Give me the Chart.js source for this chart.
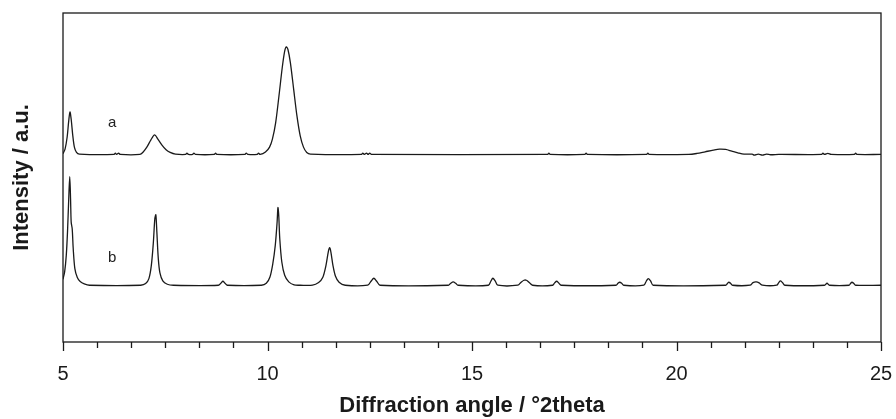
<!DOCTYPE html>
<html>
<head>
<meta charset="utf-8">
<script src="https://cdn.jsdelivr.net/npm/chart.js@4/dist/chart.umd.min.js"></script>
<style>
html,body{margin:0;padding:0;background:#fff;}
#wrap{width:896px;height:419px;position:relative;}
</style>
</head>
<body>
<div id="wrap"><canvas id="c" width="896" height="419"></canvas></div>
<script>
// ---- data ----
const aAngles = [5.00,5.05,5.10,5.14,5.17,5.20,5.24,5.28,5.33,5.40,6.25,6.28,6.31,6.36,6.40,6.88,6.95,7.05,7.15,7.24,7.32,7.42,7.52,7.62,7.75,8.00,8.03,8.07,8.17,8.20,8.24,8.70,8.73,8.76,9.45,9.48,9.52,9.75,9.78,9.82,9.95,10.05,10.12,10.20,10.28,10.36,10.42,10.46,10.50,10.56,10.64,10.72,10.80,10.88,10.96,11.05,12.30,12.33,12.37,12.42,12.46,12.50,12.54,16.85,16.88,16.91,17.76,17.79,17.82,19.27,19.30,19.33,20.30,20.50,20.70,20.90,21.05,21.20,21.35,21.50,21.65,21.85,21.90,22.00,22.10,22.20,22.30,22.50,23.55,23.58,23.62,23.70,23.78,24.35,24.38,24.41,25.00];
const aIntensity = [57.6,59.0,62.5,67.5,70.2,68.0,63.0,59.5,58.0,57.5,57.4,57.8,57.4,57.8,57.4,57.4,58.0,59.6,61.8,63.3,62.0,60.2,58.8,58.0,57.5,57.4,57.8,57.4,57.4,57.8,57.4,57.4,57.8,57.4,57.4,57.8,57.4,57.4,57.8,57.4,58.1,59.6,62.0,67.0,75.0,83.5,88.5,89.8,89.0,85.0,77.0,69.0,63.0,59.6,58.0,57.5,57.4,57.8,57.4,57.8,57.4,57.8,57.4,57.4,57.8,57.4,57.4,57.8,57.4,57.4,57.8,57.4,57.4,57.7,58.2,58.7,59.0,58.9,58.4,57.9,57.5,57.5,57.2,57.5,57.2,57.5,57.3,57.4,57.4,57.8,57.4,57.7,57.4,57.4,57.8,57.4,57.4];

const bAngles = [5.00,5.04,5.08,5.11,5.14,5.165,5.185,5.20,5.225,5.25,5.29,5.35,5.42,5.52,5.65,6.90,7.02,7.10,7.16,7.21,7.245,7.27,7.295,7.33,7.37,7.44,7.55,7.70,8.80,8.86,8.91,8.96,9.02,9.85,9.97,10.06,10.13,10.19,10.235,10.255,10.275,10.30,10.35,10.42,10.52,10.65,10.80,11.10,11.25,11.35,11.43,11.49,11.52,11.55,11.60,11.66,11.75,11.90,12.45,12.53,12.60,12.67,12.75,14.42,14.48,14.54,14.60,14.66,15.40,15.46,15.51,15.57,15.63,16.12,16.20,16.27,16.33,16.40,16.48,16.97,17.02,17.07,17.12,17.18,18.52,18.57,18.61,18.66,18.71,19.20,19.26,19.31,19.37,19.43,21.20,21.25,21.28,21.32,21.37,21.80,21.87,21.95,22.02,22.10,22.45,22.50,22.54,22.59,22.65,23.62,23.68,23.74,24.22,24.26,24.29,24.33,24.38,25.00];
const bIntensity = [19.8,22.0,27.0,34.0,44.0,50.7,44.0,37.0,35.0,29.0,23.0,20.3,19.1,18.4,18.0,18.0,18.5,20.0,24.0,31.0,38.0,39.2,34.0,26.0,21.7,19.3,18.3,18.0,18.0,18.6,19.2,18.6,18.0,18.0,18.6,20.5,24.5,30.0,37.0,41.4,39.0,32.0,25.0,21.0,19.0,18.1,18.0,18.0,18.8,20.3,24.0,28.3,29.3,28.0,24.0,20.8,18.9,18.0,18.0,19.2,20.1,19.2,18.0,18.0,18.6,19.0,18.6,18.0,18.0,19.2,20.1,19.2,18.0,18.0,18.9,19.5,19.5,18.8,18.0,18.0,18.7,19.2,18.7,18.0,18.0,18.6,18.9,18.6,18.0,18.0,19.2,20.0,19.2,18.0,18.0,18.6,18.9,18.6,18.0,18.0,18.8,19.0,18.7,18.0,18.0,18.8,19.3,18.8,18.0,18.0,18.6,18.0,18.0,18.6,18.9,18.6,18.0,18.0];

const majorTicks = [5, 10, 15, 20, 25];
const minorPerMajor = 6;
const seriesLabels = ['a', 'b'];
const seriesLabelPos = [[6.2, 66.9], [6.2, 26.2]];

const xTitle = 'Diffraction angle / °2theta';
const yTitle = 'Intensity / a.u.';

// ---- build ----
const zip = (xs, ys) => xs.map((x, i) => ({x: x, y: ys[i]}));
const FONT = '"Liberation Sans", Arial, sans-serif';
const INK = '#1a1a1a';

const framePlugin = {
  id: 'frame',
  afterDatasetsDraw(chart) {
    const {ctx, chartArea: ca, scales} = chart;
    const xs = scales.x, ys = scales.y;
    ctx.save();
    ctx.strokeStyle = INK;
    ctx.lineWidth = 1.3;
    ctx.strokeRect(ca.left, ca.top, ca.right - ca.left, ca.bottom - ca.top);
    // ticks
    const step = (majorTicks[1] - majorTicks[0]) / minorPerMajor;
    const n = Math.round((majorTicks[majorTicks.length - 1] - majorTicks[0]) / step);
    ctx.beginPath();
    for (let k = 0; k <= n; k++) {
      const v = majorTicks[0] + k * step;
      const px = Math.round(xs.getPixelForValue(v)) + 0.5;
      const len = (k % minorPerMajor === 0) ? 9 : 6;
      ctx.moveTo(px, ca.bottom);
      ctx.lineTo(px, ca.bottom + len);
    }
    ctx.stroke();
    // series labels
    ctx.fillStyle = '#222';
    ctx.font = '15px ' + FONT;
    ctx.textAlign = 'center';
    ctx.textBaseline = 'middle';
    seriesLabels.forEach((t, i) => {
      ctx.fillText(t, xs.getPixelForValue(seriesLabelPos[i][0]), ys.getPixelForValue(seriesLabelPos[i][1]));
    });
    ctx.restore();
  }
};

new Chart(document.getElementById('c'), {
  type: 'line',
  data: {
    datasets: [
      {label: 'a', data: zip(aAngles, aIntensity), borderColor: INK, borderWidth: 1.3, pointRadius: 0, tension: 0.3, fill: false},
      {label: 'b', data: zip(bAngles, bIntensity), borderColor: INK, borderWidth: 1.3, pointRadius: 0, tension: 0.3, fill: false}
    ]
  },
  options: {
    responsive: false,
    animation: false,
    events: [],
    layout: {padding: {top: 13, right: 15, left: 0, bottom: 0}},
    plugins: {legend: {display: false}, tooltip: {enabled: false}},
    scales: {
      x: {
        type: 'linear', min: 5, max: 25,
        afterBuildTicks(scale) { scale.ticks = majorTicks.map(v => ({value: v})); },
        afterFit(scale) { scale.height = 77; scale.paddingLeft = 0; scale.paddingRight = 0; },
        grid: {display: true, drawOnChartArea: false, drawTicks: false},
        border: {display: false},
        ticks: {color: INK, font: {family: FONT, size: 20}, padding: 20, maxRotation: 0, autoSkip: false},
        title: {display: true, text: xTitle, color: INK, font: {family: FONT, size: 22, weight: 'bold'}, padding: {top: 0, bottom: 0}}
      },
      y: {
        min: 0.9, max: 100,
        afterFit(scale) { scale.width = 63; scale.paddingTop = 0; scale.paddingBottom = 0; },
        grid: {display: false},
        border: {display: false},
        ticks: {display: false},
        title: {display: true, text: yTitle, color: INK, font: {family: FONT, size: 22, weight: 'bold'}, padding: {top: 9, bottom: 0}}
      }
    }
  },
  plugins: [framePlugin]
});
</script>
</body>
</html>
